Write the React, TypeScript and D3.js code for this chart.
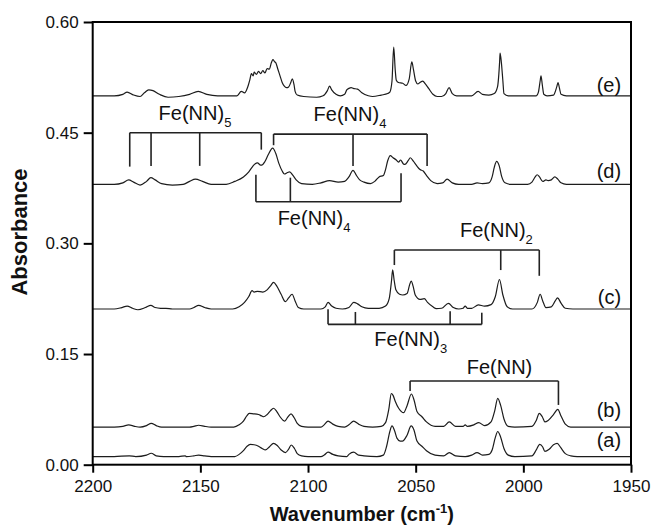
import React, { useRef, useEffect } from "react";
import * as d3 from "d3";

// spectra: [wavenumber (cm-1), absorbance]
const specA: [number, number][] = [
  [2200, 0.011], [2190, 0.011], [2183, 0.012], [2180, 0.011], [2175, 0.013], [2172.8, 0.0155], [2170.5, 0.012],
  [2167, 0.011], [2160, 0.011], [2157, 0.012], [2156.5, 0.011], [2153, 0.012], [2150.8, 0.013], [2148, 0.012],
  [2145, 0.011], [2134, 0.011], [2132, 0.014], [2130, 0.019], [2128.3, 0.025], [2126.8, 0.0275], [2125, 0.027],
  [2123, 0.025], [2121.3, 0.022], [2119.8, 0.02], [2118, 0.024], [2116, 0.029], [2114.3, 0.026], [2112.5, 0.02],
  [2110.5, 0.0165], [2109, 0.021], [2107.8, 0.0267], [2106.3, 0.022], [2105, 0.015], [2103, 0.012], [2100, 0.011],
  [2094, 0.011], [2092.5, 0.013], [2090.7, 0.017], [2088.5, 0.014], [2086, 0.012], [2082, 0.011], [2081, 0.014],
  [2078.8, 0.017], [2076.5, 0.013], [2074, 0.012], [2068, 0.011], [2065, 0.013], [2063.5, 0.025], [2062, 0.045],
  [2061, 0.0525], [2059.8, 0.046], [2058.7, 0.036], [2057.2, 0.032], [2056.2, 0.032], [2054, 0.04], [2052.1, 0.0525],
  [2050.8, 0.047], [2049.4, 0.032], [2047.1, 0.025], [2045, 0.019], [2041, 0.013], [2037, 0.012], [2034.4, 0.0165],
  [2031.5, 0.012], [2027, 0.011], [2024, 0.013], [2021.5, 0.0165], [2019, 0.013], [2016, 0.014], [2014.5, 0.02],
  [2013, 0.037], [2011.9, 0.045], [2010.6, 0.038], [2009, 0.022], [2007, 0.013], [2004, 0.011], [1996, 0.012],
  [1994, 0.02], [1992.4, 0.0275], [1991, 0.024], [1990, 0.018], [1988, 0.021], [1986, 0.027], [1984.3, 0.029],
  [1982.6, 0.023], [1980.5, 0.015], [1978, 0.012], [1975, 0.011], [1950, 0.011],
];

const specB: [number, number][] = [
  [2200, 0.051], [2190, 0.051], [2186, 0.052], [2183.3, 0.054], [2180.5, 0.052], [2178, 0.051], [2175, 0.053],
  [2172.8, 0.056], [2170.5, 0.053], [2168, 0.051], [2155, 0.051], [2153, 0.052], [2150.8, 0.0535], [2148, 0.052],
  [2145, 0.051], [2134.5, 0.051], [2132, 0.054], [2130, 0.059], [2128.5, 0.066], [2127.3, 0.0695], [2125.5, 0.069],
  [2123, 0.068], [2121.5, 0.066], [2120.6, 0.065], [2119, 0.068], [2117.5, 0.073], [2116, 0.0765], [2114.5, 0.072],
  [2113, 0.065], [2111.5, 0.06], [2110.8, 0.059], [2109.5, 0.064], [2107.9, 0.069], [2106.5, 0.064], [2105, 0.056],
  [2103, 0.052], [2100, 0.051], [2094, 0.051], [2092.5, 0.054], [2090.7, 0.059], [2088.5, 0.055], [2086, 0.052],
  [2083, 0.051], [2081, 0.054], [2078.8, 0.059], [2076.5, 0.055], [2074, 0.052], [2070, 0.051], [2066, 0.052],
  [2064, 0.057], [2062.5, 0.075], [2061.3, 0.0965], [2060.5, 0.094], [2059.5, 0.086], [2057.9, 0.0765],
  [2055.6, 0.0705], [2054, 0.08], [2052, 0.0958], [2050.8, 0.088], [2049.4, 0.072], [2047.1, 0.065], [2045, 0.058],
  [2041, 0.052], [2037, 0.052], [2034.4, 0.058], [2031.5, 0.052], [2028, 0.052], [2027, 0.054], [2026, 0.052],
  [2023, 0.054], [2020.7, 0.057], [2018, 0.053], [2015, 0.058], [2013.3, 0.073], [2011.9, 0.09], [2010.5, 0.08],
  [2009, 0.062], [2007, 0.052], [2004, 0.051], [1996, 0.052], [1994, 0.06], [1992.6, 0.0695], [1991.2, 0.065],
  [1990, 0.058], [1988.5, 0.06], [1986, 0.068], [1984, 0.075], [1982.5, 0.066], [1980.5, 0.055], [1978, 0.051],
  [1950, 0.051],
];

const specC: [number, number][] = [
  [2200, 0.211], [2190, 0.211], [2186.5, 0.213], [2184, 0.215], [2181.5, 0.212], [2179, 0.21], [2175.5, 0.213],
  [2173, 0.216], [2171, 0.213], [2168.5, 0.212], [2166, 0.212], [2163, 0.211], [2155, 0.211], [2153, 0.213],
  [2150.8, 0.216], [2148, 0.213], [2145, 0.211], [2135, 0.211], [2132, 0.214], [2129.5, 0.22], [2127.5, 0.228],
  [2126, 0.236], [2125, 0.234], [2123.5, 0.235], [2121, 0.234], [2119, 0.237], [2117.5, 0.242], [2116, 0.247],
  [2114.5, 0.242], [2112.5, 0.231], [2110.5, 0.221], [2109, 0.226], [2107.4, 0.231], [2106, 0.222], [2104.5, 0.213],
  [2102, 0.211], [2094, 0.211], [2092, 0.214], [2090.7, 0.22], [2089, 0.215], [2087, 0.212], [2084, 0.211],
  [2081, 0.213], [2078.8, 0.22], [2077, 0.218], [2075, 0.214], [2072, 0.212], [2067, 0.212], [2064, 0.215],
  [2062.3, 0.225], [2061.2, 0.25], [2060.7, 0.264], [2060, 0.25], [2059.2, 0.237], [2057.5, 0.231], [2056, 0.23],
  [2054, 0.232], [2052.8, 0.244], [2052.1, 0.249], [2051.2, 0.242], [2050.2, 0.23], [2048, 0.224], [2046, 0.225],
  [2044.5, 0.22], [2042, 0.214], [2040.4, 0.2115], [2038, 0.212], [2034.8, 0.2187], [2032.5, 0.213], [2030, 0.211],
  [2028, 0.212], [2027, 0.215], [2026, 0.212], [2024, 0.212], [2020.9, 0.2165], [2018, 0.215], [2015, 0.217],
  [2013, 0.228], [2011.1, 0.251], [2009.5, 0.23], [2007.5, 0.214], [2005, 0.211], [1996, 0.211], [1993.5, 0.22],
  [1992.2, 0.231], [1991, 0.222], [1989.5, 0.213], [1987, 0.214], [1985.2, 0.222], [1984.1, 0.226], [1982.5, 0.219],
  [1980.5, 0.212], [1977, 0.211], [1950, 0.211],
];

const specD: [number, number][] = [
  [2200, 0.38], [2190, 0.38], [2186, 0.382], [2183.3, 0.386], [2181, 0.383], [2178, 0.379], [2175, 0.384],
  [2173, 0.389], [2171, 0.386], [2168, 0.381], [2163, 0.379], [2158, 0.38], [2155, 0.384], [2152.3, 0.387],
  [2149, 0.384], [2145, 0.38], [2138, 0.38], [2134, 0.384], [2130, 0.39], [2127.5, 0.397], [2125.5, 0.405],
  [2124.5, 0.408], [2123.5, 0.409], [2122, 0.406], [2121, 0.407], [2120, 0.411], [2118.5, 0.42], [2116.4, 0.429],
  [2115, 0.422], [2113.5, 0.408], [2112, 0.398], [2111, 0.394], [2109.5, 0.396], [2108.5, 0.397], [2107, 0.392],
  [2105.5, 0.386], [2103, 0.381], [2098, 0.38], [2094, 0.382], [2090, 0.385], [2086, 0.383], [2083, 0.384],
  [2081, 0.39], [2079.1, 0.399], [2077.5, 0.392], [2076, 0.386], [2074, 0.383], [2071, 0.381], [2069, 0.384],
  [2067, 0.39], [2065, 0.392], [2064, 0.4], [2063, 0.412], [2061.8, 0.419], [2060.5, 0.416], [2059, 0.413],
  [2058, 0.41], [2057, 0.413], [2055.8, 0.408], [2055, 0.407], [2053.5, 0.412], [2052.5, 0.416], [2051, 0.411],
  [2049.5, 0.405], [2048, 0.4], [2046.5, 0.398], [2045, 0.392], [2043, 0.385], [2040, 0.381], [2037.5, 0.382],
  [2035.4, 0.387], [2033, 0.382], [2030, 0.38], [2024, 0.38], [2021.5, 0.382], [2019, 0.381], [2016, 0.382],
  [2014.5, 0.39], [2013.5, 0.403], [2012.4, 0.411], [2011.2, 0.405], [2010, 0.39], [2008.5, 0.382], [2006, 0.38],
  [1998, 0.38], [1996, 0.383], [1994.5, 0.39], [1993.6, 0.393], [1992.5, 0.39], [1991, 0.384], [1989.5, 0.386],
  [1988.5, 0.385], [1987, 0.386], [1985.4, 0.39], [1984, 0.387], [1982.5, 0.382], [1980, 0.38], [1950, 0.38],
];

const specE: [number, number][] = [
  [2200, 0.5], [2190, 0.5], [2186, 0.502], [2184, 0.505], [2181, 0.501], [2178, 0.499], [2176, 0.504],
  [2174, 0.508], [2172, 0.507], [2169, 0.502], [2165, 0.498], [2160, 0.499], [2155, 0.502], [2151, 0.506],
  [2147, 0.502], [2142, 0.5], [2133, 0.5], [2131, 0.506], [2129.5, 0.504], [2128, 0.512], [2127, 0.522],
  [2126.3, 0.53], [2125.5, 0.527], [2125, 0.532], [2124, 0.529], [2123, 0.533], [2122, 0.53], [2121, 0.534],
  [2120, 0.531], [2119, 0.537], [2118, 0.536], [2117, 0.545], [2116.3, 0.549], [2115.5, 0.546], [2115, 0.545],
  [2114, 0.536], [2113, 0.527], [2112, 0.518], [2111, 0.513], [2110, 0.511], [2109, 0.512], [2108, 0.518],
  [2107.3, 0.523], [2106.5, 0.515], [2106, 0.506], [2105, 0.501], [2102, 0.499], [2096, 0.498], [2093, 0.5],
  [2091, 0.507], [2090, 0.513], [2089, 0.508], [2087, 0.502], [2085, 0.5], [2083, 0.502], [2082, 0.508],
  [2081, 0.51], [2080, 0.511], [2079, 0.51], [2077, 0.509], [2075, 0.504], [2072, 0.5], [2070, 0.499],
  [2066, 0.501], [2063, 0.503], [2062, 0.505], [2061, 0.52], [2060.2, 0.566], [2059.5, 0.535], [2059, 0.521],
  [2058, 0.518], [2056, 0.517], [2054.5, 0.514], [2053, 0.523], [2051.8, 0.546], [2051, 0.535], [2050, 0.52],
  [2049, 0.516], [2048, 0.518], [2046.7, 0.52], [2045.5, 0.516], [2044, 0.51], [2042, 0.502], [2040, 0.499],
  [2038, 0.499], [2036, 0.503], [2034.5, 0.511], [2033, 0.503], [2031, 0.5], [2024, 0.5], [2021, 0.506],
  [2019, 0.502], [2016, 0.501], [2013.5, 0.503], [2012, 0.512], [2011, 0.547], [2010.8, 0.558], [2010.2, 0.545],
  [2009.5, 0.52], [2009, 0.503], [2007, 0.5], [1994, 0.5], [1993, 0.505], [1992.2, 0.52], [1991.8, 0.527],
  [1991.2, 0.515], [1990.5, 0.502], [1989, 0.5], [1986, 0.501], [1984.5, 0.512], [1983.9, 0.518], [1983.2, 0.51],
  [1982.5, 0.502], [1980, 0.5], [1950, 0.5],
];

const spectra = [specA, specB, specC, specD, specE];
const traceNames = ["(a)", "(b)", "(c)", "(d)", "(e)"];
const traceNameY = [0.0244, 0.065, 0.2178, 0.3885, 0.505];

const xTicks = [2200, 2150, 2100, 2050, 2000, 1950];
const yTicks = [0, 0.15, 0.3, 0.45, 0.6];

// band assignments: bar height, leg ends, label anchor (all in data units)
const brackets = [
  { name: "Fe(NN)", sub: "5", bar: 0.45, legs: [[2182.8, 0.404], [2172.9, 0.405], [2150.3, 0.405], [2121.7, 0.427]], tx: 2169.4, ty: 0.4671 },
  { name: "Fe(NN)", sub: "4", bar: 0.4481, legs: [[2116, 0.433], [2079.1, 0.405], [2044.7, 0.405]], tx: 2097.4, ty: 0.4657 },
  { name: "Fe(NN)", sub: "4", bar: 0.3564, legs: [[2124.2, 0.393], [2108.2, 0.389], [2056.8, 0.395]], tx: 2114.1, ty: 0.3248 },
  { name: "Fe(NN)", sub: "2", bar: 0.2909, legs: [[2059.9, 0.2706], [2010.5, 0.2638], [1992.6, 0.256]], tx: 2029.4, ty: 0.309 },
  { name: "Fe(NN)", sub: "3", bar: 0.1902, legs: [[2090.7, 0.2106], [2078, 0.207], [2034, 0.208], [2019.3, 0.206]], tx: 2069.2, ty: 0.1608 },
  { name: "Fe(NN)", sub: "", bar: 0.1134, legs: [[2052.6, 0.1], [1983.7, 0.081]], tx: 2026.3, ty: 0.1225 },
];

const font = "'Liberation Sans', Arial, sans-serif";

export default function App() {
  const ref = useRef<SVGSVGElement>(null);

  useEffect(() => {
    const width = 651;
    const height = 528;
    const margin = { top: 22, right: 20, bottom: 63.3, left: 92.7 };

    const svg = d3.select(ref.current).attr("width", width).attr("height", height);
    svg.selectAll("*").remove();

    const x = d3.scaleLinear().domain([2200, 1950]).range([margin.left, width - margin.right]);
    const y = d3.scaleLinear().domain([0, 0.6]).range([height - margin.bottom, margin.top]);

    const path = d3
      .line<[number, number]>()
      .x((d) => x(d[0]))
      .y((d) => y(d[1]))
      .curve(d3.curveMonotoneX);

    svg
      .append("g")
      .selectAll("path")
      .data(spectra)
      .join("path")
      .attr("d", (d) => path(d))
      .attr("fill", "none")
      .attr("stroke", "#1c1c1c")
      .attr("stroke-width", 1.2)
      .attr("stroke-linejoin", "round");

    svg
      .append("g")
      .selectAll("text")
      .data(traceNames)
      .join("text")
      .attr("x", x(1954.6))
      .attr("y", (d, i) => y(traceNameY[i]))
      .attr("text-anchor", "end")
      .attr("font-family", font)
      .attr("font-size", 20)
      .attr("fill", "#111")
      .text((d) => d);

    // assignment brackets
    const gB = svg.append("g").attr("stroke", "#222").attr("stroke-width", 1.6).attr("fill", "none");
    brackets.forEach((b) => {
      const xs = b.legs.map((l) => l[0]);
      gB.append("line")
        .attr("x1", x(d3.max(xs)!))
        .attr("x2", x(d3.min(xs)!))
        .attr("y1", y(b.bar))
        .attr("y2", y(b.bar));
      b.legs.forEach((l) => {
        gB.append("line")
          .attr("x1", x(l[0]))
          .attr("x2", x(l[0]))
          .attr("y1", y(b.bar))
          .attr("y2", y(l[1]));
      });
      const t = svg
        .append("text")
        .attr("x", x(b.tx))
        .attr("y", y(b.ty))
        .attr("font-family", font)
        .attr("font-size", 20)
        .attr("fill", "#111");
      t.append("tspan").text(b.name);
      if (b.sub) t.append("tspan").attr("font-size", 13).attr("dy", 7).text(b.sub);
    });

    // axes
    const xAxis = svg
      .append("g")
      .attr("transform", `translate(0,${height - margin.bottom})`)
      .call(d3.axisBottom(x).tickValues(xTicks).tickFormat(d3.format("d")).tickSize(8).tickPadding(7));
    const yAxis = svg
      .append("g")
      .attr("transform", `translate(${margin.left},0)`)
      .call(d3.axisLeft(y).tickValues(yTicks).tickFormat(d3.format(".2f")).tickSize(9).tickPadding(5));
    [xAxis, yAxis].forEach((g) => {
      g.select(".domain").remove();
      g.selectAll(".tick line").attr("stroke", "#000").attr("stroke-width", 2);
      g.selectAll(".tick text").attr("font-family", font).attr("font-size", 17).attr("fill", "#111");
    });

    svg
      .append("rect")
      .attr("x", margin.left)
      .attr("y", margin.top)
      .attr("width", width - margin.left - margin.right)
      .attr("height", height - margin.top - margin.bottom)
      .attr("fill", "none")
      .attr("stroke", "#000")
      .attr("stroke-width", 2);

    const xt = svg
      .append("text")
      .attr("x", (margin.left + width - margin.right) / 2)
      .attr("y", 521)
      .attr("text-anchor", "middle")
      .attr("font-family", font)
      .attr("font-size", 20)
      .attr("font-weight", "bold")
      .attr("fill", "#111");
    xt.append("tspan").text("Wavenumber (cm");
    xt.append("tspan").attr("font-size", 13).attr("dy", -8).text("-1");
    xt.append("tspan").attr("dy", 8).text(")");

    svg
      .append("text")
      .attr("transform", "translate(27,232) rotate(-90)")
      .attr("text-anchor", "middle")
      .attr("font-family", font)
      .attr("font-size", 22)
      .attr("font-weight", "bold")
      .attr("fill", "#111")
      .text("Absorbance");
  }, []);

  return (
    <div style={{ position: "absolute", left: 0, top: 0 }}>
      <svg ref={ref} style={{ display: "block", background: "#fff" }} />
    </div>
  );
}
